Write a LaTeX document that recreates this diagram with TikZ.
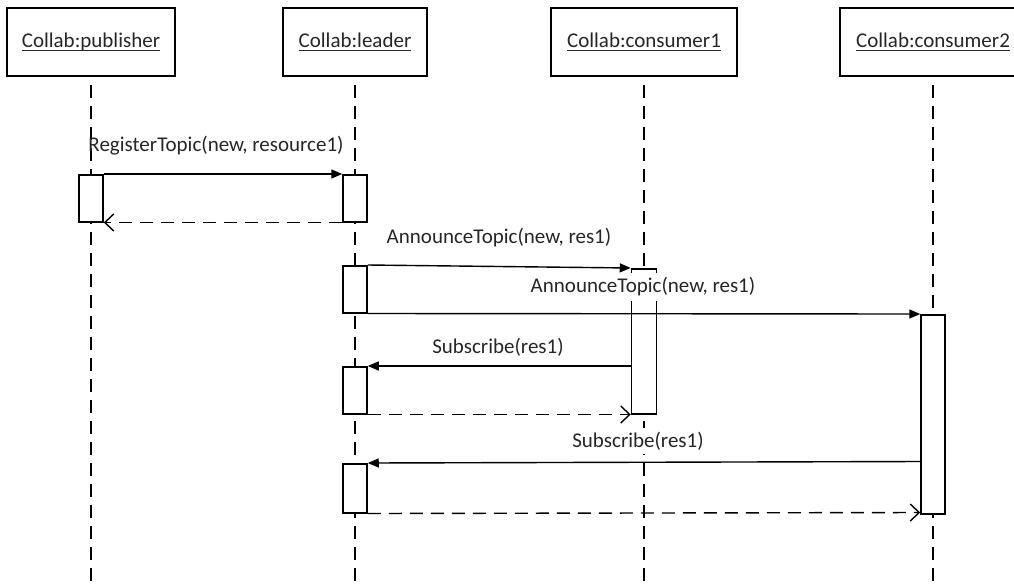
\documentclass[tikz,border=0pt]{standalone}
\usepackage{fontspec}
\setmainfont{Carlito}
\usetikzlibrary{arrows.meta}
% underlined object name in a lifeline head
\newcommand\objname[1]{\setbox0\hbox{#1}\rlap{\rule[-3pt]{\wd0}{1.1pt}}\box0}
\begin{document}
\begin{tikzpicture}[x=1pt,y=-1pt,
  font=\fontsize{21}{25}\selectfont,
  headbox/.style={draw, line width=1.5pt, minimum height=68pt, inner sep=0pt, text=black!85},
  lifeline/.style={line width=1.4pt, dash pattern=on 13pt off 8pt, dash phase=13pt},
  actbox/.style={draw, fill=white, line width=1.5pt, minimum width=24pt, inner sep=0pt, anchor=north},
  callmsg/.style={line width=1.4pt, -{Triangle[length=11pt,width=9pt]}},
  retmsg/.style={line width=1.4pt, dash pattern=on 13pt off 8pt, -{Straight Barb[length=9pt,width=17pt]}},
  msglabel/.style={inner sep=1.5pt, text=black!85}]
\clip (0,0) rectangle (1014,584);

% lifeline heads
\node[headbox, minimum width=168pt] (pub) at (91,42)  {\objname{Collab:publisher}};
\node[headbox, minimum width=144pt] (lead) at (355,42) {\objname{Collab:leader}};
\node[headbox, minimum width=186pt] (con1) at (644,42) {\objname{Collab:consumer1}};
\node[headbox, minimum width=186pt] (con2) at (933,42) {\objname{Collab:consumer2}};

% lifeline ends
\coordinate (pubend)  at (91,590);
\coordinate (leadend) at (355,590);
\coordinate (con1end) at (644,590);
\coordinate (con2end) at (933,590);

\draw[lifeline] (pub.south)  -- (pubend);
\draw[lifeline] (lead.south) -- (leadend);
\draw[lifeline] (con1.south) -- (con1end);
\draw[lifeline] (con2.south) -- (con2end);

% activation bars
\node[actbox, minimum height=47pt] (pa)  at (91,174) {};
\node[actbox, minimum height=47pt] (la1) at (355,174) {};
\node[actbox, minimum height=47pt] (la2) at (355,265) {};
\node[actbox, minimum height=145pt, minimum width=25pt] (c1a) at (644,268) {};
\node[actbox, minimum height=199pt] (c2a) at (933,314) {};
\node[actbox, minimum height=47pt] (la3) at (355,366) {};
\node[actbox, minimum height=49pt] (la4) at (355,463) {};

% RegisterTopic
\draw[callmsg] (pa.north east) -- (la1.north west);
\node[msglabel] (m1) at (216,146) {RegisterTopic(new, resource1)};
\draw[retmsg] (la1.south west) -- (pa.south east);

% AnnounceTopic to consumer1 and consumer2
\draw[callmsg] (la2.north east) -- (c1a.north west);
\node[msglabel] (m2) at (499,238) {AnnounceTopic(new, res1)};
\draw[callmsg] (la2.south east) -- (c2a.north west);
\node[msglabel, fill=white, inner ysep=5pt] (m3) at (643,287) {AnnounceTopic(new, res1)};

% Subscribe from consumer1
\draw[callmsg] (la3.north east -| c1a.west) -- (la3.north east);
\node[msglabel] (m4) at (498,347) {Subscribe(res1)};
\draw[retmsg] (la3.south east) -- (c1a.south west);

% Subscribe from consumer2
\draw[callmsg] ([yshift=1.5pt]la4.north east -| c2a.west) -- (la4.north east);
\node[msglabel, fill=white, inner ysep=4pt] (m5) at (638,441) {Subscribe(res1)};
\draw[retmsg] (la4.south east) -- ([yshift=2pt]c2a.south west);
\end{tikzpicture}
\end{document}
